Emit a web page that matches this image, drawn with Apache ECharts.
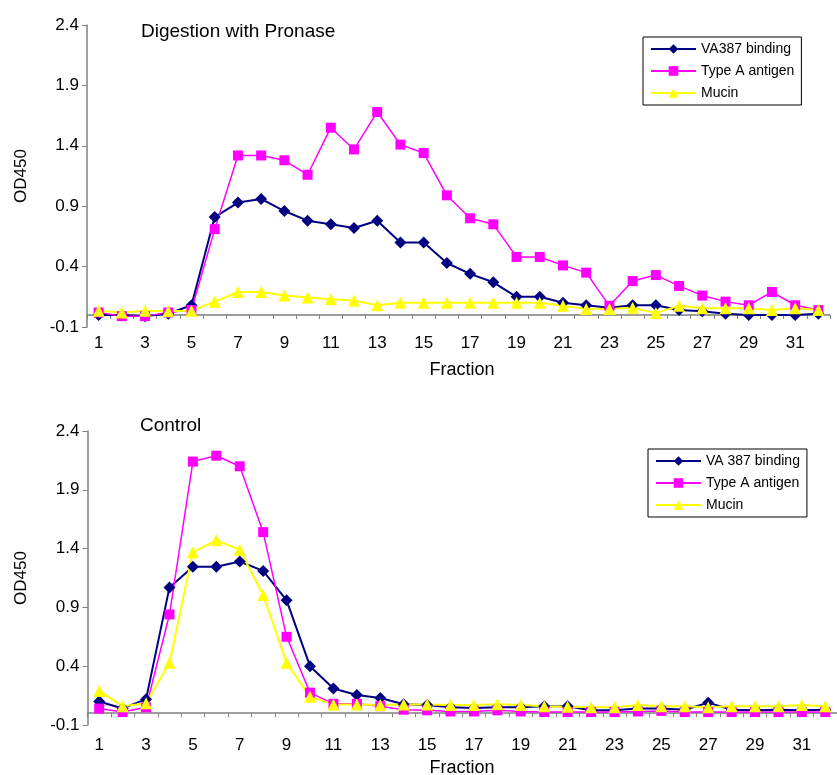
<!DOCTYPE html>
<html>
<head>
<meta charset="utf-8">
<script src="https://cdn.jsdelivr.net/npm/echarts@6/dist/echarts.min.js"></script>
<style>html,body{margin:0;padding:0;background:#fff}#c{width:837px;height:775px}</style>
</head>
<body>
<div id="c"></div>
<script>
var fractions = ['1','2','3','4','5','6','7','8','9','10','11','12','13','14','15','16','17','18','19','20','21','22','23','24','25','26','27','28','29','30','31','32'];
var yTicks = [-0.1, 0.4, 0.9, 1.4, 1.9, 2.4];

var pronaseVA387 = [0.00, 0.00, -0.01, 0.01, 0.08, 0.81, 0.93, 0.96, 0.86, 0.78, 0.75, 0.72, 0.78, 0.60, 0.60, 0.43, 0.34, 0.27, 0.15, 0.15, 0.10, 0.08, 0.06, 0.08, 0.08, 0.04, 0.03, 0.01, 0.00, 0.00, 0.00, 0.01];
var pronaseTypeA = [0.02, -0.01, -0.01, 0.02, 0.04, 0.71, 1.32, 1.32, 1.28, 1.16, 1.55, 1.37, 1.68, 1.41, 1.34, 0.99, 0.80, 0.75, 0.48, 0.48, 0.41, 0.35, 0.075, 0.28, 0.33, 0.24, 0.16, 0.11, 0.08, 0.19, 0.08, 0.04];
var pronaseMucin = [0.035, 0.02, 0.035, 0.03, 0.035, 0.11, 0.19, 0.19, 0.16, 0.145, 0.13, 0.12, 0.08, 0.10, 0.10, 0.10, 0.10, 0.10, 0.10, 0.10, 0.075, 0.05, 0.05, 0.06, 0.015, 0.075, 0.055, 0.055, 0.055, 0.04, 0.055, 0.04];

var controlVA387 = [0.10, 0.04, 0.12, 1.07, 1.245, 1.245, 1.29, 1.21, 0.96, 0.40, 0.21, 0.155, 0.13, 0.077, 0.07, 0.05, 0.045, 0.05, 0.05, 0.06, 0.06, 0.025, 0.025, 0.04, 0.04, 0.03, 0.09, 0.03, 0.025, 0.03, 0.025, 0.03];
var controlTypeA = [0.04, 0.01, 0.05, 0.84, 2.14, 2.19, 2.10, 1.54, 0.65, 0.175, 0.08, 0.08, 0.06, 0.03, 0.025, 0.015, 0.015, 0.025, 0.015, 0.01, 0.01, 0.01, 0.01, 0.015, 0.02, 0.01, 0.01, 0.01, 0.01, 0.01, 0.01, 0.01];
var controlMucin = [0.19, 0.06, 0.085, 0.43, 1.37, 1.47, 1.39, 1.005, 0.43, 0.14, 0.075, 0.075, 0.07, 0.075, 0.075, 0.07, 0.07, 0.077, 0.07, 0.06, 0.055, 0.05, 0.05, 0.07, 0.06, 0.06, 0.05, 0.06, 0.06, 0.06, 0.07, 0.06];

var FONT = "'Liberation Sans', Arial, Helvetica, sans-serif";
var AXIS_GREY = '#7f7f7f';
var BLUE = '#000080', PINK = '#ff00ff', YELLOW = '#ffff00';

function xAxisCfg(gi, margin) {
  return {
    type: 'category', gridIndex: gi, data: fractions, boundaryGap: true,
    axisLine: { onZero: true, lineStyle: { color: AXIS_GREY, width: 1.5 } },
    axisTick: { show: true, interval: 0, length: 4, inside: false, lineStyle: { color: AXIS_GREY } },
    axisLabel: { interval: 1, margin: margin, color: '#000', fontSize: 17, fontFamily: FONT },
    splitLine: { show: false }
  };
}
function yAxisCfg(gi) {
  return {
    type: 'value', gridIndex: gi, min: yTicks[0], max: yTicks[yTicks.length - 1], interval: 0.5,
    axisLine: { show: true, lineStyle: { color: AXIS_GREY, width: 1.5 } },
    axisTick: { show: true, length: 5, lineStyle: { color: AXIS_GREY } },
    axisLabel: { margin: 8, color: '#000', fontSize: 17, fontFamily: FONT,
      formatter: function (v) { return (Math.round(v * 10) / 10).toFixed(1); } },
    splitLine: { show: false }
  };
}
function lineSeries(name, data, gi, color, symbol, size, width) {
  return {
    name: name, type: 'line', xAxisIndex: gi, yAxisIndex: gi, data: data,
    symbol: symbol, symbolSize: size,
    lineStyle: { color: color, width: width },
    itemStyle: { color: color, borderWidth: 0 },
    emphasis: { disabled: true }
  };
}

var chart = echarts.init(document.getElementById('c'), null, { renderer: 'canvas' });
chart.setOption({
  animation: false,
  textStyle: { fontFamily: FONT },
  grid: [
    { left: 87, top: 25, width: 743, height: 302 },
    { left: 87.5, top: 431, width: 755, height: 294 }
  ],
  xAxis: [xAxisCfg(0, 8), xAxisCfg(1, 12)],
  yAxis: [yAxisCfg(0), yAxisCfg(1)],
  legend: [
    {
      orient: 'vertical', left: 643, top: 37,
      data: ['VA387 binding', 'Type A antigen', 'Mucin'],
      itemWidth: 45, itemHeight: 12, itemGap: 6,
      padding: [4, 7, 4, 7],
      borderColor: '#000', borderWidth: 1, backgroundColor: '#fff',
      textStyle: { color: '#000', fontSize: 14, fontFamily: FONT, lineHeight: 16 },
      selectedMode: false
    },
    {
      orient: 'vertical', left: 648, top: 449,
      data: ['VA 387 binding', 'Type A antigen', 'Mucin'],
      itemWidth: 45, itemHeight: 12, itemGap: 6,
      padding: [4, 7, 4, 7],
      borderColor: '#000', borderWidth: 1, backgroundColor: '#fff',
      textStyle: { color: '#000', fontSize: 14, fontFamily: FONT, lineHeight: 16 },
      selectedMode: false
    }
  ],
  series: [
    lineSeries('VA387 binding', pronaseVA387, 0, BLUE, 'diamond', 12, 2),
    lineSeries('Type A antigen', pronaseTypeA, 0, PINK, 'rect', 10, 1.5),
    lineSeries('Mucin', pronaseMucin, 0, YELLOW, 'triangle', 12, 2),
    lineSeries('VA 387 binding', controlVA387, 1, BLUE, 'diamond', 12, 2),
    lineSeries('Type A antigen', controlTypeA, 1, PINK, 'rect', 10, 1.5),
    lineSeries('Mucin', controlMucin, 1, YELLOW, 'triangle', 12, 2)
  ],
  graphic: [
    { type: 'text', x: 141, y: 32, style: { text: 'Digestion with Pronase', fill: '#000', font: '19px ' + FONT, textAlign: 'left', textVerticalAlign: 'middle' } },
    { type: 'text', x: 140, y: 426, style: { text: 'Control', fill: '#000', font: '19px ' + FONT, textAlign: 'left', textVerticalAlign: 'middle' } },
    { type: 'text', x: 462, y: 370, style: { text: 'Fraction', fill: '#000', font: '18px ' + FONT, textAlign: 'center', textVerticalAlign: 'middle' } },
    { type: 'text', x: 462, y: 768, style: { text: 'Fraction', fill: '#000', font: '18px ' + FONT, textAlign: 'center', textVerticalAlign: 'middle' } },
    { type: 'text', x: 21, y: 176, rotation: Math.PI / 2, style: { text: 'OD450', fill: '#000', font: '17px ' + FONT, textAlign: 'center', textVerticalAlign: 'middle' } },
    { type: 'text', x: 21, y: 578, rotation: Math.PI / 2, style: { text: 'OD450', fill: '#000', font: '17px ' + FONT, textAlign: 'center', textVerticalAlign: 'middle' } }
  ]
});
</script>
</body>
</html>
